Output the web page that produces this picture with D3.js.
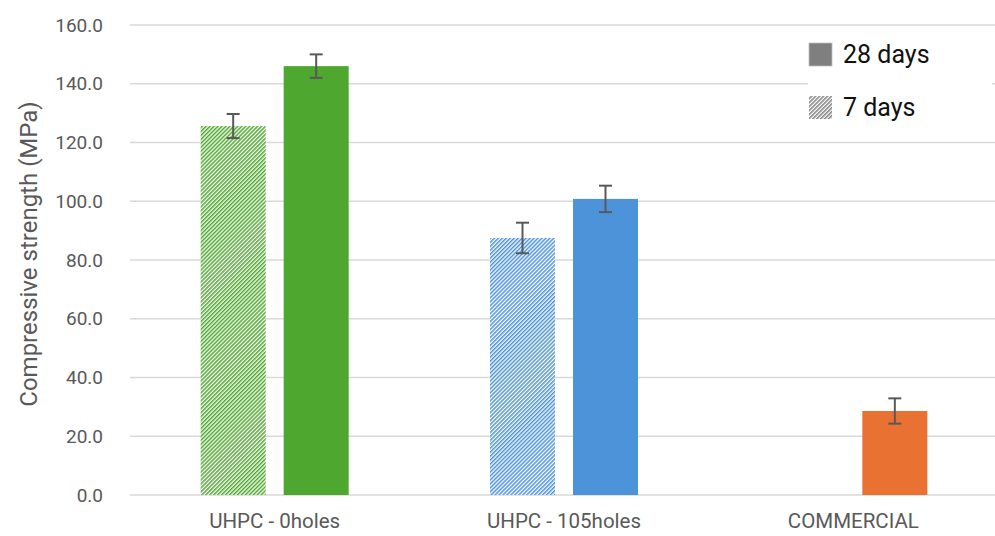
<!DOCTYPE html>
<html>
<head>
<meta charset="utf-8">
<script src="https://cdn.jsdelivr.net/npm/d3@7"></script>
<style>
  html, body { margin: 0; padding: 0; background: #fff; }
  svg { display: block; font-family: Roboto, "Liberation Sans", sans-serif; }
</style>
</head>
<body>
<svg id="chart" width="995" height="536"></svg>
<script>
const categories = ["UHPC - 0holes", "UHPC - 105holes", "COMMERCIAL"];
const series = ["7 days", "28 days"];
const values7 = [125.6, 87.5, 0];
const values28 = [146.0, 100.8, 28.6];
const err7 = [4.1, 5.2, null];
const err28 = [4.0, 4.5, 4.3];
const yTicks = [0, 20, 40, 60, 80, 100, 120, 140, 160];
const catColors = ["#4EA72E", "#4D93D9", "#E97132"];

const svg = d3.select("#chart");
const W = 995, H = 536;
const margin = { left: 130, right: -3, top: 25, bottom: 41 };

const x0 = d3.scaleBand().domain(categories)
  .range([margin.left, W - margin.right]).paddingInner(0.4885).paddingOuter(0.24425);
const x1 = d3.scaleBand().domain(series)
  .range([0, x0.bandwidth()]).paddingInner(0.2169).paddingOuter(0);
const y = d3.scaleLinear().domain([0, 160]).range([H - margin.bottom, margin.top]);

// patterns
const defs = svg.append("defs");
function hatch(id, color) {
  const p = defs.append("pattern").attr("id", id).attr("patternUnits", "userSpaceOnUse")
    .attr("width", 2.8).attr("height", 2.8).attr("patternTransform", "rotate(45)");
  p.append("rect").attr("width", 2.8).attr("height", 2.8).attr("fill", "#fff");
  p.append("rect").attr("width", 1.5).attr("height", 2.8).attr("fill", color);
}
catColors.forEach((c, i) => hatch("hatch" + i, c));
hatch("hatchLegend", "#7f7f7f");

// gridlines
svg.append("g").selectAll("line").data(yTicks).join("line")
  .attr("x1", margin.left).attr("x2", W)
  .attr("y1", d => y(d)).attr("y2", d => y(d))
  .attr("stroke", "#d9d9d9").attr("stroke-width", 1.3);

// y axis labels
const yAxis = d3.axisLeft(y).tickValues(yTicks).tickFormat(d3.format(".1f")).tickSize(0).tickPadding(0);
const ya = svg.append("g").attr("transform", `translate(103,0)`).call(yAxis);
ya.select(".domain").remove();
ya.selectAll("text").attr("font-size", 19).attr("fill", "#595959")
  .attr("font-family", "Roboto, 'Liberation Sans', sans-serif");

// axis title
svg.append("text")
  .attr("transform", `translate(37,${(y(0) + y(160)) / 2 - 6}) rotate(-90)`)
  .attr("text-anchor", "middle").attr("font-size", 24).attr("fill", "#595959")
  .text("Compressive strength (MPa)");

// x axis labels
const xAxis = d3.axisBottom(x0).tickSize(0).tickPadding(0);
const xa = svg.append("g").attr("transform", `translate(0,${y(0) + 18})`).call(xAxis);
xa.select(".domain").remove();
xa.selectAll("text").attr("font-size", 20.5).attr("fill", "#595959")
  .attr("font-family", "Roboto, 'Liberation Sans', sans-serif")
  .attr("dy", "0.71em");

// bars
const rows = categories.map((c, i) => ({ c, i, vals: [
  { s: "7 days", v: values7[i], e: err7[i] },
  { s: "28 days", v: values28[i], e: err28[i] } ] }));

const g = svg.append("g").selectAll("g").data(rows).join("g")
  .attr("transform", d => `translate(${x0(d.c)},0)`);

g.selectAll("rect").data(d => d.vals.map(v => ({ ...v, i: d.i }))).join("rect")
  .attr("x", d => x1(d.s)).attr("width", x1.bandwidth())
  .attr("y", d => y(d.v)).attr("height", d => y(0) - y(d.v))
  .attr("fill", d => d.s === "7 days" ? `url(#hatch${d.i})` : catColors[d.i]);

// error bars
const eb = g.selectAll("g.err").data(d => d.vals.filter(v => v.e != null && v.v > 0)).join("g")
  .attr("class", "err")
  .attr("stroke", "#595959").attr("stroke-width", 2);
const cap = 6.5;
eb.append("line")
  .attr("x1", d => x1(d.s) + x1.bandwidth() / 2).attr("x2", d => x1(d.s) + x1.bandwidth() / 2)
  .attr("y1", d => y(d.v + d.e)).attr("y2", d => y(d.v - d.e));
eb.append("line")
  .attr("x1", d => x1(d.s) + x1.bandwidth() / 2 - cap).attr("x2", d => x1(d.s) + x1.bandwidth() / 2 + cap)
  .attr("y1", d => y(d.v + d.e)).attr("y2", d => y(d.v + d.e));
eb.append("line")
  .attr("x1", d => x1(d.s) + x1.bandwidth() / 2 - cap).attr("x2", d => x1(d.s) + x1.bandwidth() / 2 + cap)
  .attr("y1", d => y(d.v - d.e)).attr("y2", d => y(d.v - d.e));

// legend
const lg = svg.append("g");
lg.append("rect").attr("x", 808).attr("y", 32).attr("width", 184).attr("height", 98).attr("fill", "#fff");
const legendItems = [
  { label: "28 days", fill: "#7f7f7f", yy: 43 },
  { label: "7 days", fill: "url(#hatchLegend)", yy: 96 }
];
legendItems.forEach(it => {
  lg.append("rect").attr("x", 809).attr("y", it.yy).attr("width", 23).attr("height", 23)
    .attr("fill", it.fill).attr("stroke", it.label === "28 days" ? "#bfbfbf" : "none").attr("stroke-width", 0.8);
  lg.append("text").attr("x", 843).attr("y", it.yy + 20).attr("font-size", 25)
    .attr("fill", "#111").text(it.label);
});
</script>
</body>
</html>
